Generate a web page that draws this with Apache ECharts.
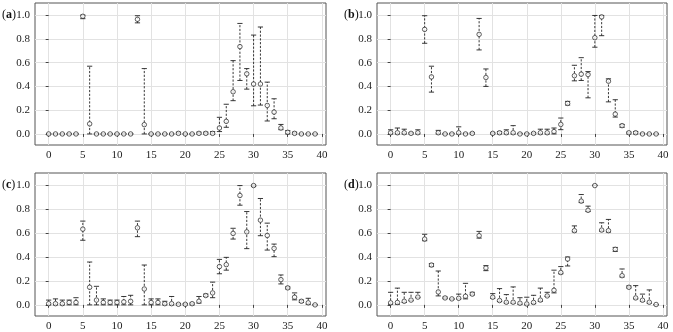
<!DOCTYPE html>
<html>
<head>
<meta charset="utf-8">
<script src="https://cdn.jsdelivr.net/npm/echarts@6/dist/echarts.min.js"></script>
<style>
  html, body { margin: 0; padding: 0; background: #fff; }
  #main { width: 673px; height: 332px; }
</style>
</head>
<body>
<div id="main"></div>
<script>
// positions 0..39 on x
var xs = [];
for (var i = 0; i < 40; i++) xs.push(i);
var xTicks = [0, 5, 10, 15, 20, 25, 30, 35, 40];
var yTicks = [0, 0.2, 0.4, 0.6, 0.8, 1.0];
var panelNames = ['a', 'b', 'c', 'd'];

// panel (a)
var aVal = [0,0,0,0,0,0.99,0.085,0,0,0,0,0,0,0.965,0.078,0,0,0,0,0.005,0,0,0.005,0.005,0.005,0.05,0.106,0.355,0.735,0.506,0.42,0.42,0.24,0.184,0.05,0.014,0.005,0,0,0];
var aLo  = [0,0,0,0,0,0.97,0,0,0,0,0,0,0,0.935,0,0,0,0,0,0,0,0,0,0,0,0.02,0.056,0.28,0.45,0.377,0.237,0.243,0.109,0.128,0.036,0,0,0,0,0];
var aHi  = [0,0,0,0,0,1.0,0.57,0,0,0,0,0,0,0.995,0.55,0,0,0,0,0.015,0,0,0.015,0.015,0.02,0.14,0.25,0.617,0.93,0.55,0.832,0.9,0.436,0.296,0.08,0.028,0.015,0,0,0];

// panel (b)
var bVal = [0.01,0.01,0.01,0.005,0.01,0.88,0.48,0.01,0,0,0.01,0,0.005,0.838,0.475,0.005,0.01,0.01,0.01,0,0,0.005,0.01,0.01,0.02,0.08,0.257,0.49,0.503,0.5,0.81,0.985,0.444,0.167,0.07,0.01,0.01,0,0,0];
var bLo  = [0,0,0,0,0,0.763,0.352,0,0,0,0,0,0,0.707,0.4,0,0,0,0,0,0,0,0,0,0,0.036,0.243,0.447,0.45,0.304,0.73,0.827,0.27,0.142,0.056,0,0,0,0,0];
var bHi  = [0.035,0.05,0.04,0.01,0.035,0.995,0.57,0.03,0,0.005,0.06,0.005,0.01,0.972,0.547,0.01,0.02,0.035,0.07,0.005,0.005,0.01,0.04,0.04,0.05,0.134,0.274,0.578,0.642,0.525,0.997,0.997,0.464,0.288,0.08,0.015,0.02,0.005,0,0];

// panel (c)
var cVal = [0.01,0.01,0.01,0.02,0.02,0.633,0.147,0.04,0.02,0.02,0.02,0.025,0.03,0.644,0.133,0.02,0.02,0.01,0.01,0.005,0.005,0.01,0.03,0.078,0.1,0.32,0.336,0.597,0.914,0.61,0.997,0.708,0.58,0.472,0.211,0.142,0.064,0.03,0.017,0];
var cLo  = [0,0,0,0,0,0.54,0,0,0,0,0,0,0,0.57,0,0,0,0,0,0,0,0,0.015,0.07,0.06,0.26,0.29,0.55,0.833,0.47,0.99,0.578,0.458,0.403,0.175,0.133,0.042,0.02,0.005,0];
var cHi  = [0.04,0.05,0.04,0.04,0.06,0.7,0.358,0.155,0.05,0.04,0.04,0.07,0.08,0.7,0.333,0.05,0.05,0.03,0.07,0.01,0.01,0.015,0.07,0.09,0.19,0.38,0.397,0.64,0.997,0.78,1.0,0.889,0.683,0.508,0.25,0.15,0.1,0.04,0.055,0];

// panel (d)
var dVal = [0.017,0.02,0.03,0.04,0.065,0.55,0.333,0.108,0.058,0.05,0.055,0.072,0.09,0.578,0.308,0.064,0.036,0.022,0.022,0.014,0.008,0.02,0.04,0.075,0.122,0.27,0.383,0.62,0.867,0.79,0.997,0.625,0.62,0.464,0.244,0.147,0.058,0.039,0.022,0.003];
var dLo  = [0.005,0.005,0.02,0.035,0.06,0.536,0.32,0.075,0.052,0.047,0.05,0.05,0.083,0.558,0.286,0.055,0.028,0.015,0.014,0.005,0,0.01,0.03,0.07,0.1,0.26,0.325,0.61,0.855,0.78,0.997,0.616,0.608,0.447,0.233,0.142,0.05,0.03,0.014,0];
var dHi  = [0.105,0.14,0.105,0.105,0.105,0.59,0.345,0.283,0.065,0.05,0.09,0.18,0.105,0.614,0.328,0.094,0.136,0.086,0.15,0.06,0.064,0.08,0.14,0.105,0.29,0.32,0.4,0.66,0.922,0.825,1.0,0.686,0.714,0.48,0.3,0.158,0.161,0.09,0.125,0.003];

var panels = [[aVal, aLo, aHi], [bVal, bLo, bHi], [cVal, cLo, cHi], [dVal, dLo, dHi]];
var grids = [
  { left: 35, top: 3, width: 291, height: 142 },
  { left: 377, top: 3, width: 290, height: 142 },
  { left: 35, top: 173, width: 291, height: 143 },
  { left: 377, top: 173, width: 290, height: 143 }
];

var font = 'Liberation Serif';
var ink = '#222';

function errBar(params, api) {
  var x = api.value(0);
  var lo = api.coord([x, api.value(1)]);
  var hi = api.coord([x, api.value(2)]);
  var w = 2.6;
  var st = { stroke: ink, lineWidth: 0.9 };
  return {
    type: 'group',
    children: [
      { type: 'line', shape: { x1: lo[0], y1: lo[1], x2: hi[0], y2: hi[1] },
        style: { stroke: ink, lineWidth: 0.9, lineDash: [2.2, 1.6] } },
      { type: 'line', shape: { x1: hi[0] - w, y1: hi[1], x2: hi[0] + w, y2: hi[1] }, style: st },
      { type: 'line', shape: { x1: lo[0] - w, y1: lo[1], x2: lo[0] + w, y2: lo[1] }, style: st }
    ]
  };
}

var xAxes = [], yAxes = [], series = [], graphics = [];
grids.forEach(function (g, k) {
  g.show = true;
  g.borderColor = '#555';
  g.borderWidth = 1;
  xAxes.push({
    type: 'value', gridIndex: k, min: -2, max: 40.6,
    axisLine: { show: false },
    axisTick: { show: true, length: 3, lineStyle: { color: '#444' }, customValues: xTicks },
    axisLabel: { customValues: xTicks, fontFamily: font, fontSize: 11, color: '#222', margin: 5 },
    splitLine: { show: true, lineStyle: { color: '#e2e2e2', width: 1 } }
  });
  yAxes.push({
    type: 'value', gridIndex: k, min: -0.093, max: 1.102,
    axisLine: { show: false },
    axisTick: { show: true, length: 3, lineStyle: { color: '#444' }, customValues: yTicks },
    axisLabel: { customValues: yTicks, fontFamily: font, fontSize: 11, color: '#222', margin: 5,
      formatter: function (v) { return v.toFixed(1); } },
    splitLine: { show: true, lineStyle: { color: '#e2e2e2', width: 1 } }
  });
  var p = panels[k];
  series.push({
    type: 'custom', xAxisIndex: k, yAxisIndex: k, renderItem: errBar,
    data: xs.map(function (x, i) { return [x, p[1][i], p[2][i]]; }),
    z: 2, silent: true
  });
  series.push({
    type: 'scatter', xAxisIndex: k, yAxisIndex: k, symbol: 'circle', symbolSize: 4.5,
    itemStyle: { color: '#fff', borderColor: ink, borderWidth: 0.9 },
    data: xs.map(function (x, i) { return [x, p[0][i]]; }),
    z: 3, silent: true
  });
  graphics.push({
    type: 'text', left: g.left - 33, top: g.top + 6,
    style: {
      text: '({b|' + panelNames[k] + '})',
      font: '12px "' + font + '"', fill: '#111',
      rich: { b: { fontWeight: 'bold', fontFamily: font, fontSize: 12 } }
    }
  });
});

var myChart = echarts.init(document.getElementById('main'));
var option = {
  animation: false,
  grid: grids,
  xAxis: xAxes,
  yAxis: yAxes,
  series: series,
  graphic: graphics
};
option && myChart.setOption(option);
</script>
</body>
</html>
